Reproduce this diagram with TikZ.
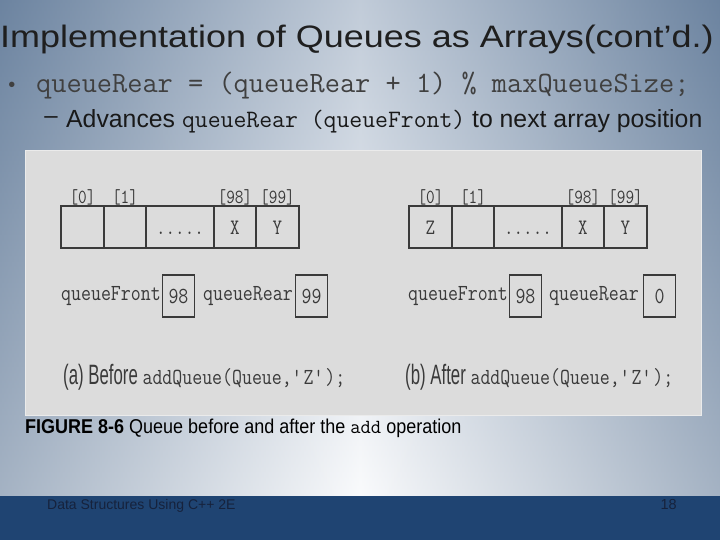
\documentclass[tikz,border=0pt]{standalone}
\usepackage{fontspec}
\setmainfont{Liberation Sans}
\setmonofont{Latin Modern Mono}
\newfontfamily\titlesf[FakeStretch=1.16]{Liberation Sans}
\newfontfamily\capsf[FakeStretch=0.9]{Liberation Sans}
\newfontfamily\figsf[FakeStretch=0.6]{Liberation Sans}
\newfontfamily\figtt[FakeStretch=0.84]{Latin Modern Mono}
\usetikzlibrary{positioning}

\definecolor{bgtop}{HTML}{8398B2}
\definecolor{bgbot}{HTML}{F4F6F9}
\definecolor{bgedge}{HTML}{56708F}
\definecolor{slideblue}{HTML}{1F4472}
\definecolor{footink}{HTML}{16223C}
\definecolor{panel}{HTML}{DCDCDC}
\definecolor{figink}{HTML}{3A3A3A}
\definecolor{codeink}{HTML}{404040}

\tikzset{
  cell/.style={draw=figink, line width=1.2pt, outer sep=0pt, inner sep=0pt,
    minimum height=42pt, text height=14pt, text depth=0pt,
    font=\figtt\fontsize{22}{22}\selectfont, text=figink},
  idx/.style={inner sep=1pt, font=\figtt\fontsize{20}{20}\selectfont, text=figink},
  valbox/.style={draw=figink, line width=1.2pt, inner sep=0pt, minimum width=32pt,
    minimum height=42pt, font=\figtt\fontsize{23}{23}\selectfont, text=figink},
  varname/.style={inner sep=0pt, font=\figtt\fontsize{23}{23}\selectfont, text=figink},
  sublabel/.style={anchor=west, inner sep=0pt, text=figink}
}

\begin{document}
\begin{tikzpicture}[x=1pt,y=-1pt]
  \useasboundingbox (0,0) rectangle (720,540);
  \shade[top color=bgtop, bottom color=bgbot] (0,0) rectangle (720,496);
  \shade[left color=bgedge, right color=bgedge, middle color=white, fill opacity=0.5] (0,0) rectangle (720,496);
  \fill[slideblue] (0,496) rectangle (720,540);

  \node[anchor=base west, inner sep=0pt, font=\titlesf\fontsize{31}{31}\selectfont, text=black!88] (title) at (0,48) {Implementation of Queues as Arrays(cont’d.)};
  \node[inner sep=0pt, font=\fontsize{20}{20}\selectfont, text=codeink] (dot) at (12,87) {\textbullet};
  \node[anchor=base west, inner sep=0pt, font=\ttfamily\fontsize{29.5}{30}\selectfont, text=codeink] (code) at (36,93) {queueRear = (queueRear + 1) \% maxQueueSize;};
  \node[inner sep=0pt, font=\fontsize{24}{24}\selectfont, text=black!90] (dash) at (51,120) {–};
  \node[anchor=base west, inner sep=0pt, font=\fontsize{24.8}{25}\selectfont, text=black!90] (sub) at (66,128) {Advances {\ttfamily\fontsize{25}{25}\selectfont queueRear (queueFront)} to next array position};

  \draw[draw=white!92!black, fill=panel, line width=1pt] (25,151) rectangle (701,415);

  \node[cell, minimum width=43pt, label={[idx]above:{[0]}}] (a0) at (82.5,227) {};
  \node[cell, minimum width=42pt, label={[idx]above:{[1]}}, right=0pt of a0] (a1) {};
  \node[cell, minimum width=68pt, right=0pt of a1] (adots) {.....};
  \node[cell, minimum width=42pt, label={[idx]above:{[98]}}, right=0pt of adots] (a98) {X};
  \node[cell, minimum width=43pt, label={[idx]above:{[99]}}, right=0pt of a98] (a99) {Y};
  \node[valbox] (afront) at (178.5,296) {98};
  \node[varname, left=1pt of afront] (afrontname) {queueFront};
  \node[valbox] (arear) at (311.5,296) {99};
  \node[varname, left=2pt of arear] (arearname) {queueRear};
  \node[sublabel] (acap) at (63,377) {\figsf\fontsize{28}{28}\selectfont (a) Before \figtt\fontsize{23}{23}\selectfont addQueue(Queue,\textquotesingle Z\textquotesingle);};

  \begin{scope}[xshift=348pt]
  \node[cell, minimum width=43pt, label={[idx]above:{[0]}}] (b0) at (82.5,227) {Z};
  \node[cell, minimum width=42pt, label={[idx]above:{[1]}}, right=0pt of b0] (b1) {};
  \node[cell, minimum width=68pt, right=0pt of b1] (bdots) {.....};
  \node[cell, minimum width=42pt, label={[idx]above:{[98]}}, right=0pt of bdots] (b98) {X};
  \node[cell, minimum width=43pt, label={[idx]above:{[99]}}, right=0pt of b98] (b99) {Y};
  \node[valbox] (bfront) at (177.5,296) {98};
  \node[varname, left=1pt of bfront] (bfrontname) {queueFront};
  \node[valbox] (brear) at (311.5,296) {0};
  \node[varname, left=4pt of brear] (brearname) {queueRear};
  \node[sublabel] (bcap) at (57,377) {\figsf\fontsize{28}{28}\selectfont (b) After \figtt\fontsize{23}{23}\selectfont addQueue(Queue,\textquotesingle Z\textquotesingle);};
  \end{scope}

  \node[anchor=base west, inner sep=0pt, font=\capsf\fontsize{20}{20}\selectfont] (figcap) at (25,433) {\textbf{FIGURE 8-6} Queue before and after the {\ttfamily\fontsize{20}{20}\selectfont add} operation};
  \node[anchor=base west, inner sep=0pt, font=\fontsize{14}{14}\selectfont, text=footink] (foot) at (47,509) {Data Structures Using C++ 2E};
  \node[anchor=base east, inner sep=0pt, font=\fontsize{14.5}{14.5}\selectfont, text=footink] (page) at (677,509) {18};
\end{tikzpicture}
\end{document}
